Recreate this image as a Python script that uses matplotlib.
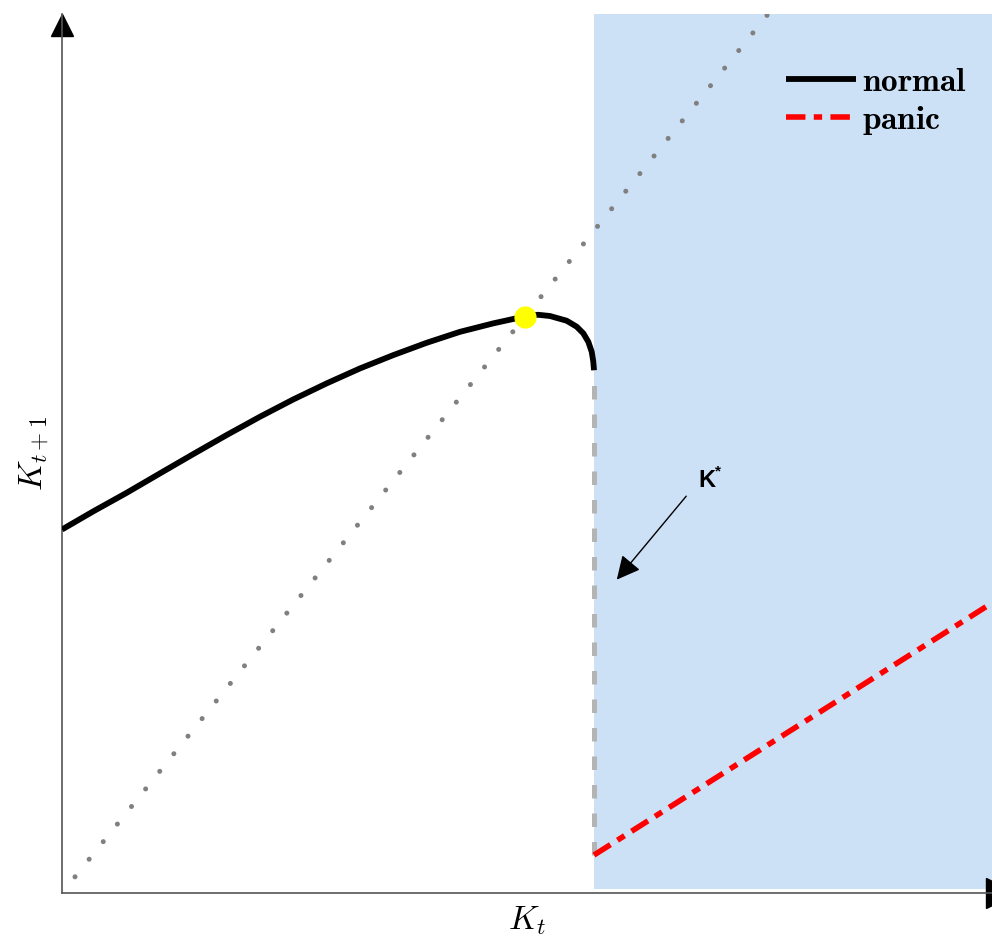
import matplotlib
matplotlib.use("Agg")
import matplotlib.pyplot as plt

plt.rcParams["mathtext.fontset"] = "cm"

# normal-regime law of motion K_{t+1}(K_t)
k_normal = [0.0, 0.313, 0.647, 0.98, 1.313, 1.647, 1.98, 2.313, 2.647, 2.98, 3.313,
            3.647, 3.98, 4.313, 4.647, 4.76, 4.88, 5.047, 5.147, 5.213, 5.263,
            5.297, 5.313, 5.32]
k_next_normal = [2.92, 3.066, 3.215, 3.371, 3.526, 3.679, 3.826, 3.965, 4.094, 4.214, 4.321,
                 4.420, 4.508, 4.576, 4.635, 4.645, 4.635, 4.597, 4.549, 4.496, 4.428,
                 4.348, 4.268, 4.20]

# panic regime (starts at K*)
k_panic = [5.32, 9.30]
k_next_panic = [0.305, 2.33]

k_star = 5.32
k_fixed = 4.63
diag = [0.13, 7.06]

x_max = 9.30
y_max = 7.06

fig = plt.figure(figsize=(9.92, 9.42), dpi=100)
ax = fig.add_axes([0.0625, 0.052, 0.9375, 0.933])
ax.set_xlim(0, x_max)
ax.set_ylim(0, y_max)

# panic zone shading
ax.axvspan(k_star, x_max, ymin=0.0045, ymax=1.0, color="#cce0f6", lw=0, zorder=0)

# 45 degree line
ax.plot(diag, diag, color="#808080", lw=3.6, linestyle=(0, (0.01, 4.5)),
        dash_capstyle="round", zorder=1)

# jump at K*
ax.plot([k_star, k_star], [k_next_panic[0], k_next_normal[-1]], color="#b4b4b4",
        lw=3.6, linestyle=(0, (2.7, 3.0)), zorder=2)

ax.plot(k_normal, k_next_normal, color="black", lw=4.2, solid_capstyle="butt",
        solid_joinstyle="round", label=r"$\mathbf{normal}$", zorder=3)
ax.plot(k_panic, k_next_panic, color="red", lw=4.0, linestyle=(0, (3.5, 1.5, 1.5, 1.5)),
        label=r"$\mathbf{panic}$", zorder=3)

ax.plot([k_fixed], [k_fixed], "o", color="yellow", ms=15, zorder=4)

# K* annotation
ax.annotate("", xy=(5.53, 2.50), xytext=(6.26, 3.205),
            arrowprops=dict(arrowstyle="-|>", color="black", lw=1, mutation_scale=36))
ax.text(6.36, 3.31, "K", family="Liberation Sans", weight="bold", fontsize=17,
        ha="left", va="center")
ax.annotate("*", xy=(6.36, 3.31), xytext=(12, 7), textcoords="offset points",
            family="Liberation Sans", weight="bold", fontsize=11, ha="left", va="center")

# axes with arrow heads
for s in ["top", "right"]:
    ax.spines[s].set_visible(False)
for s in ["left", "bottom"]:
    ax.spines[s].set_color("#555555")
    ax.spines[s].set_linewidth(1.2)
ax.set_xticks([])
ax.set_yticks([])
ax.plot(0, 0.9875, "^", color="black", ms=16.5, transform=ax.transAxes, clip_on=False)
ax.plot(1.0097, 0, ">", color="black", ms=22, transform=ax.transAxes, clip_on=False)

ax.set_xlabel(r"$K_t$", fontsize=24, labelpad=8)
ax.set_ylabel(r"$K_{t+1}$", fontsize=24, labelpad=8)

ax.legend(loc="upper left", bbox_to_anchor=(0.778, 0.942), frameon=False,
          fontsize=24, handlelength=2.1, handletextpad=0.2, borderpad=0,
          borderaxespad=0, labelspacing=0.15)

fig.savefig("out.png", dpi=100)
